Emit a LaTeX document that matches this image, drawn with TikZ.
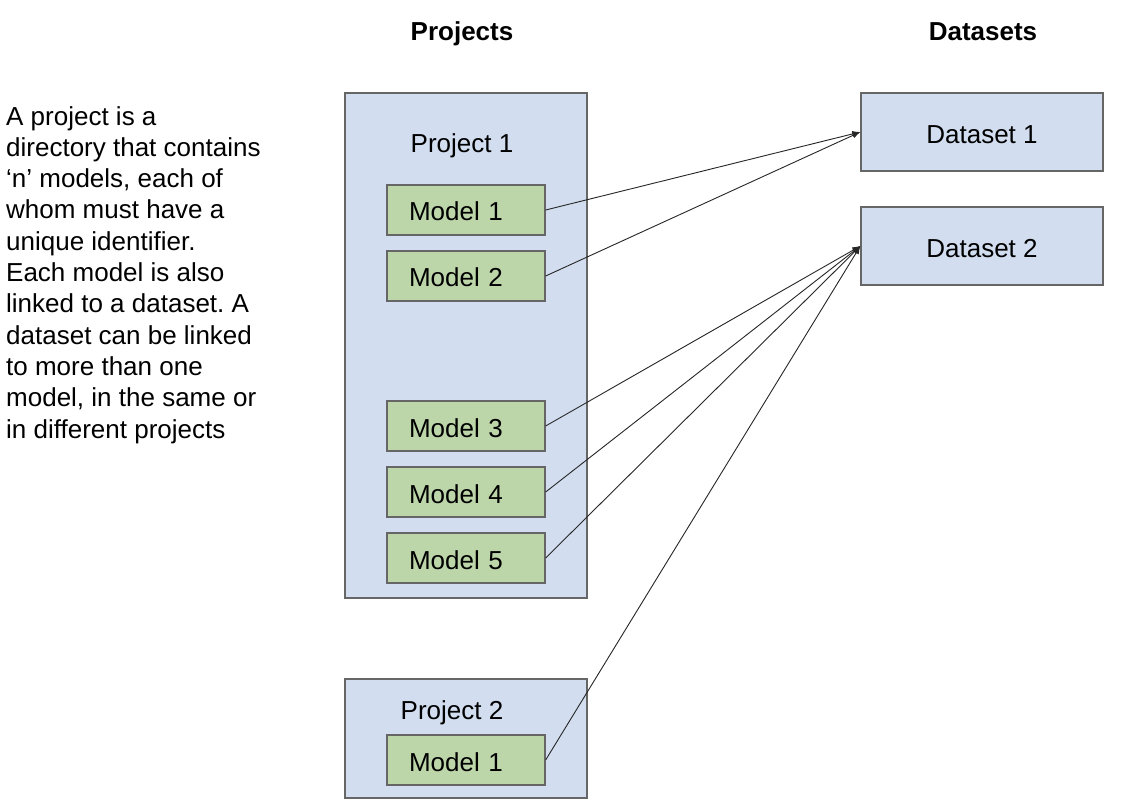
\documentclass[tikz,border=0pt]{standalone}
\usepackage{fontspec}
\setmainfont{Liberation Sans}
\usetikzlibrary{arrows.meta}
\definecolor{boxblue}{HTML}{D2DEF0}
\definecolor{modelgreen}{HTML}{BCD6A9}
\definecolor{edgegray}{HTML}{666666}
\newcommand{\bodyfont}{\fontsize{26pt}{31.3pt}\selectfont}
\frenchspacing
\tikzset{
  every node/.style={font=\bodyfont},
  heading/.style={font=\bodyfont\bfseries, anchor=base},
  project/.style={draw=edgegray, line width=1.3pt, fill=boxblue, minimum width=242pt},
  dataset/.style={draw=edgegray, line width=1.3pt, fill=boxblue, minimum width=242pt, minimum height=78pt,
    text height=24pt, text depth=0pt},
  model/.style={draw=edgegray, line width=1.3pt, fill=modelgreen, minimum height=50pt,
    text width=114pt, inner xsep=22pt, align=left, text height=22pt, text depth=0pt},
  link/.style={line width=0.9pt, black!85, -{Latex[length=8pt,width=6pt]}},
}
\begin{document}
\begin{tikzpicture}[x=1pt, y=-1pt]
    \useasboundingbox[fill=white] (0,0) rectangle (1128,810);
    % column headings
    \node[heading] (hproj) at (462,41) {Projects};
    \node[heading] (hdata) at (983,41) {Datasets};
    % explanation on the left
    \node[anchor=north west, inner sep=0pt, align=left] (note) at (6,106) {A project is a\\
      directory that contains\\ ‘n’ models, each of\\ whom must have a\\ unique identifier.\\
      Each model is also\\ linked to a dataset. A\\ dataset can be linked\\ to more than one\\
      model, in the same or\\ in different projects};
    % projects
    \node[project, minimum height=505pt] (proj1) at (466,345.5) {};
    \node[anchor=base] (p1title) at (462,153) {Project 1};
    \foreach \name/\y/\num in {m1/210/1, m2/276/2, m3/426/3, m4/492/4, m5/558/5}
      \node[model] (\name) at (466,\y) {Model \num};
    \node[project, minimum height=119pt] (proj2) at (466,738.5) {};
    \node[anchor=base] (p2title) at (452,719) {Project 2};
    \node[model] (q1) at (466,760) {Model 1};
    % datasets
    \node[dataset] (d1) at (982,132) {Dataset 1};
    \node[dataset] (d2) at (982,246) {Dataset 2};
    % links
    \foreach \m in {m1,m2} \draw[link] (\m.east) -- (d1.west);
    \foreach \m in {m3,m4,m5,q1} \draw[link] (\m.east) -- (d2.west);
\end{tikzpicture}
\end{document}
